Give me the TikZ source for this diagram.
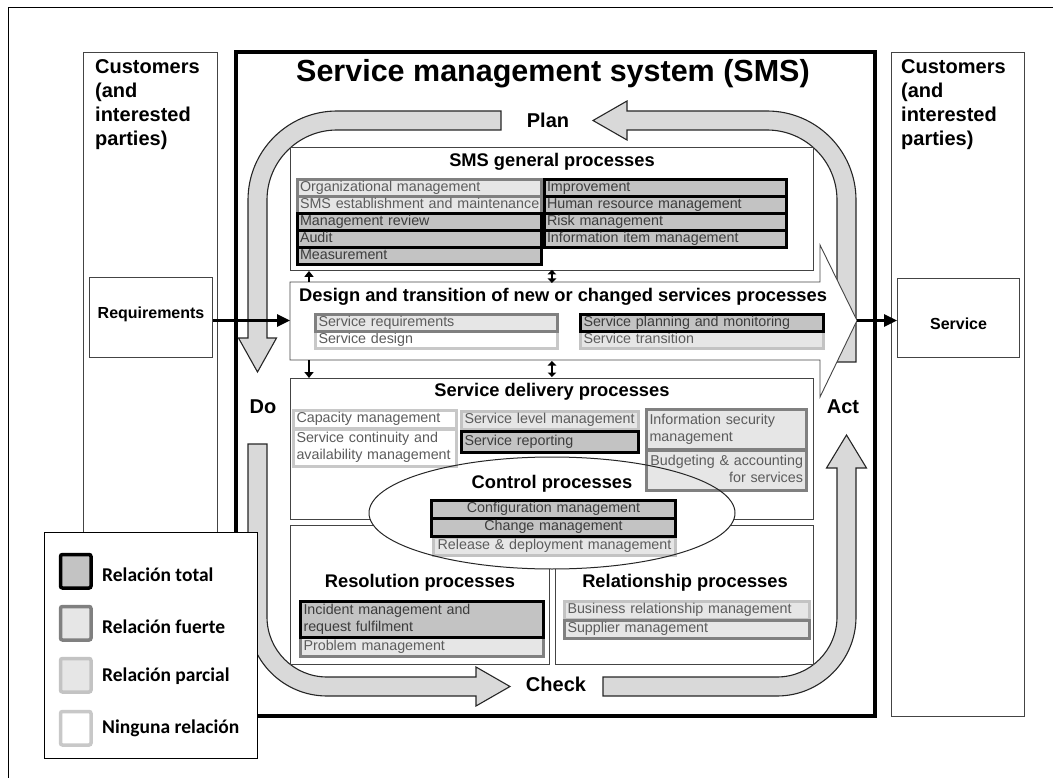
\documentclass[tikz,border=0pt]{standalone}
\usepackage{fontspec}
\setmainfont{Liberation Sans}
\newfontfamily\legfont{Carlito}
\usetikzlibrary{arrows.meta}
\definecolor{totfill}{HTML}{C3C3C3}
\definecolor{lightfill}{HTML}{E6E6E6}
\definecolor{fuedraw}{HTML}{808080}
\definecolor{pardraw}{HTML}{C3C3C3}
\definecolor{nindraw}{HTML}{C8C8C8}
\definecolor{pdcafill}{HTML}{D9D9D9}
\definecolor{itemtxt}{HTML}{5C5C5C}
\definecolor{itemdark}{HTML}{3C3C3C}
\definecolor{boxline}{HTML}{444444}
\tikzset{
  sec/.style={draw=boxline, line width=0.9pt, fill=white, inner sep=0pt},
  outerbox/.style={draw=boxline, line width=1.1pt, fill=white, inner sep=0pt},
  pdca/.style={draw=black!85, line width=1.1pt, fill=pdcafill},
  itm/.style={line width=3pt, inner xsep=3pt, inner ysep=0pt, font=\fontsize{14.3}{17}\selectfont, align=left, anchor=north west,
    execute at begin node={\hyphenpenalty=10000\strut}, execute at end node={\strut}},
  rtot/.style={itm, draw=black, fill=totfill, text=itemdark},
  rfue/.style={itm, draw=fuedraw, fill=lightfill, text=itemtxt},
  rpar/.style={itm, draw=pardraw, fill=lightfill, text=itemtxt},
  rnin/.style={itm, draw=nindraw, fill=white, text=itemtxt},
  sectitle/.style={font=\fontsize{18.3}{21}\selectfont\bfseries, inner sep=0pt},
  pdcalabel/.style={font=\fontsize{20}{24}\selectfont\bfseries, inner sep=0pt},
  custtext/.style={font=\fontsize{20}{24}\selectfont\bfseries, align=left, inner sep=0pt, anchor=north west},
  flow/.style={line width=2.6pt, -{Triangle[length=13pt,width=12pt]}},
  sarr/.style={line width=2pt, -{Triangle[length=6pt,width=9pt]}},
  darr/.style={line width=2pt, {Triangle[length=4.5pt,width=8.5pt]}-{Triangle[length=4.5pt,width=8.5pt]}},
  legsq/.style={line width=3.5pt, rounded corners=2pt, minimum width=30.5pt, minimum height=33.5pt, anchor=north west, inner sep=0pt},
  legtext/.style={font=\legfont\fontsize{19.5}{22}\selectfont\bfseries, anchor=west, inner sep=0pt},
}
\begin{document}
\begin{tikzpicture}[x=1pt,y=-1pt]
\useasboundingbox (0,0) rectangle (1053,778);
% outer frame
\draw[line width=1pt] (8,778) -- (8,8) -- (1053,8);

% customers boxes
\node[outerbox, minimum width=134pt, minimum height=664pt, anchor=north west] (custL) at (83,52) {};
\node[outerbox, minimum width=133pt, minimum height=664pt, anchor=north west] (custR) at (891,52) {};
\node[custtext] (custLt) at (95,59) {Customers\\(and\\interested\\parties)};
\node[custtext] (custRt) at (901,59) {Customers\\(and\\interested\\parties)};
\node[outerbox, minimum width=123pt, minimum height=80pt, anchor=north west,
      label={[font=\fontsize{16}{19}\selectfont\bfseries, yshift=3pt]center:Requirements}] (req) at (89,277) {};
\node[outerbox, minimum width=122pt, minimum height=79pt, anchor=north west,
      label={[font=\fontsize{16}{19}\selectfont\bfseries, yshift=-6pt]center:Service}] (srv) at (897,278) {};

% SMS box
\node[draw=black, line width=3.8pt, minimum width=639pt, minimum height=664pt, anchor=north west, inner sep=0pt] (sms) at (234,50) {};
\node[font=\fontsize{30.5}{34}\selectfont\bfseries, inner sep=0pt] (smstitle) at (553,74) {Service management system (SMS)};

% PDCA arrows
\draw[pdca] (837,362) -- (856,362) -- (856,200) arc[start angle=0, end angle=-90, radius=89]
  -- (627,111) -- (627,101) -- (593,120.5) -- (627,140) -- (627,130) -- (767,130)
  arc[start angle=-90, end angle=0, radius=70] -- cycle;
\draw[pdca] (501,111) -- (337,111) arc[start angle=-90, end angle=-180, radius=89]
  -- (248,338) -- (238.5,338) -- (257.5,372) -- (276.5,338) -- (267,338) -- (267,200)
  arc[start angle=180, end angle=270, radius=70] -- (501,130) -- cycle;
\draw[pdca] (248,444) -- (248,617) arc[start angle=180, end angle=90, radius=79]
  -- (476,696) -- (476,706) -- (510,686.5) -- (476,667) -- (476,677) -- (327,677)
  arc[start angle=90, end angle=180, radius=60] -- (267,444) -- cycle;
\draw[pdca] (603,677) -- (777,677) arc[start angle=90, end angle=0, radius=60]
  -- (837,468) -- (826.5,468) -- (846.5,435) -- (866.5,468) -- (856,468) -- (856,617)
  arc[start angle=0, end angle=90, radius=79] -- (603,696) -- cycle;
\node[pdcalabel] (plan) at (548,120) {Plan};
\node[pdcalabel] (do) at (263,407) {Do};
\node[pdcalabel] (act) at (843,407) {Act};
\node[pdcalabel] (check) at (556,684) {Check};

% section boxes
\node[sec, minimum width=523pt, minimum height=123pt, anchor=north west] (gen) at (290,147) {};
\draw[sec] (290,282) -- (820,282) -- (820,245) -- (857,320.5) -- (820,397) -- (820,360) -- (290,360) -- cycle;
\coordinate (dtip) at (857,320.5);
\coordinate (din) at (290,320.5);
\coordinate (dtl) at (309,282);
\coordinate (dbl) at (309,360);
\node[sec, minimum width=523pt, minimum height=141pt, anchor=north west] (deliv) at (290,378) {};
\node[sec, minimum width=259pt, minimum height=139pt, anchor=north west] (resol) at (290,525) {};
\node[sec, minimum width=258pt, minimum height=139pt, anchor=north west] (relat) at (555,525) {};

% control ellipse fill
\fill[white] (552,513) ellipse [x radius=183, y radius=56];

% SMS general items
\node[rfue, text width=239pt, inner xsep=2.5pt, minimum height=17pt] (g1) at (296,178) {Organizational management};
\node[rfue, text width=239pt, inner xsep=2.5pt, minimum height=17pt] (g2) at (296,195) {\mbox{SMS establishment and maintenance}};
\node[rtot, text width=239pt, inner xsep=2.5pt, minimum height=17pt] (g3) at (296,212) {Management review};
\node[rtot, text width=239pt, inner xsep=2.5pt, minimum height=17pt] (g4) at (296,229) {Audit};
\node[rtot, text width=239pt, inner xsep=2.5pt, minimum height=17pt] (g5) at (296,246) {Measurement};
\node[rtot, text width=237pt, inner xsep=2.5pt, minimum height=17pt] (g6) at (543,178) {Improvement};
\node[rtot, text width=237pt, inner xsep=2.5pt, minimum height=17pt] (g7) at (543,195) {Human resource management};
\node[rtot, text width=237pt, inner xsep=2.5pt, minimum height=17pt] (g8) at (543,212) {Risk management};
\node[rtot, text width=237pt, inner xsep=2.5pt, minimum height=17pt] (g9) at (543,229) {Information item management};

% design items
\node[rnin, text width=236pt, minimum height=17pt] (d2) at (314,330) {Service design};
\node[rfue, text width=236pt, minimum height=17pt] (d1) at (314,313) {Service requirements};
\node[rpar, text width=237pt, minimum height=17pt] (d4) at (579,330) {Service transition};
\node[rtot, text width=237pt, minimum height=17pt] (d3) at (579,313) {Service planning and monitoring};

% delivery items
\node[rnin, text width=157pt, minimum height=18pt] (s1) at (292,409) {Capacity management};
\node[rnin, text width=157pt, minimum height=37pt] (s2) at (292,428) {Service continuity and\\availability management};
\node[rpar, text width=171pt, minimum height=18pt] (s3) at (460,410) {Service level management};
\node[rtot, text width=171pt, minimum height=21pt] (s4) at (460,430) {Service reporting};
\node[rfue, text width=154pt, minimum height=40pt] (s5) at (645,408) {Information security\\management};
\node[rfue, text width=153pt, inner xsep=3.5pt, minimum height=40pt, align=right] (s6) at (645,449) {\mbox{Budgeting \& accounting}\\for services};

% control items
\node[rpar, text width=236pt, minimum height=18pt, align=center] (c3) at (432,536) {Release \& deployment management};
\node[rtot, text width=238pt, minimum height=18pt, align=center] (c1) at (430,499) {Configuration management};
\node[rtot, text width=238pt, minimum height=18pt, align=center] (c2) at (430,517) {Change management};
\draw[draw=black!85, line width=1pt] (552,513) ellipse [x radius=183, y radius=56];

% resolution / relationship items
\node[rfue, text width=237pt, minimum height=19pt] (r2) at (299,636) {Problem management};
\node[rtot, text width=237pt, minimum height=36pt] (r1) at (299,600) {Incident management and\\request fulfilment};
\node[rpar, text width=239pt, minimum height=18pt] (b1) at (563,600) {Business relationship management};
\node[rfue, text width=239pt, minimum height=18pt] (b2) at (563,619) {Supplier management};

% titles
\node[sectitle] (gentitle) at (552,162) {SMS general processes};
\node[sectitle, anchor=west] (destitle) at (299,297) {Design and transition of new or changed services processes};
\node[sectitle] (deltitle) at (552,392) {Service delivery processes};
\node[sectitle] (ctltitle) at (552,484) {Control processes};
\node[sectitle] (restitle) at (420,583) {Resolution processes};
\node[sectitle] (reltitle) at (685,583) {Relationship processes};

% small connectors
\draw[sarr] (dtl) -- (dtl |- gen.south);
\draw[sarr] (dbl) -- (dbl |- deliv.north);
\draw[darr] ([yshift=1pt]gen.south) -- ([yshift=-1pt]gen.south |- dtl);
\draw[darr] ([yshift=-1pt]deliv.north |- dbl) -- ([yshift=1pt]deliv.north);

% main flow connectors
\draw[flow] (req.east |- din) -- (din);
\draw[flow] (dtip) -- (srv.west |- dtip);

% legend
\node[draw=black, line width=1pt, fill=white, minimum width=213pt, minimum height=226pt, anchor=north west, inner sep=0pt] (legend) at (44,532) {};
\node[legsq, draw=black, fill=totfill] (l1) at (58.75,552.75) {};
\node[legsq, draw=fuedraw, fill=lightfill] (l2) at (58.75,604.75) {};
\node[legsq, draw=pardraw, fill=lightfill] (l3) at (58.75,656.75) {};
\node[legsq, draw=nindraw, fill=white] (l4) at (58.75,709.75) {};
\node[legtext] (l1t) at (102,575) {Relación total};
\node[legtext] (l2t) at (102,627) {Relación fuerte};
\node[legtext] (l3t) at (102,676) {Relación parcial};
\node[legtext] (l4t) at (102,728) {Ninguna relación};
\end{tikzpicture}
\end{document}
